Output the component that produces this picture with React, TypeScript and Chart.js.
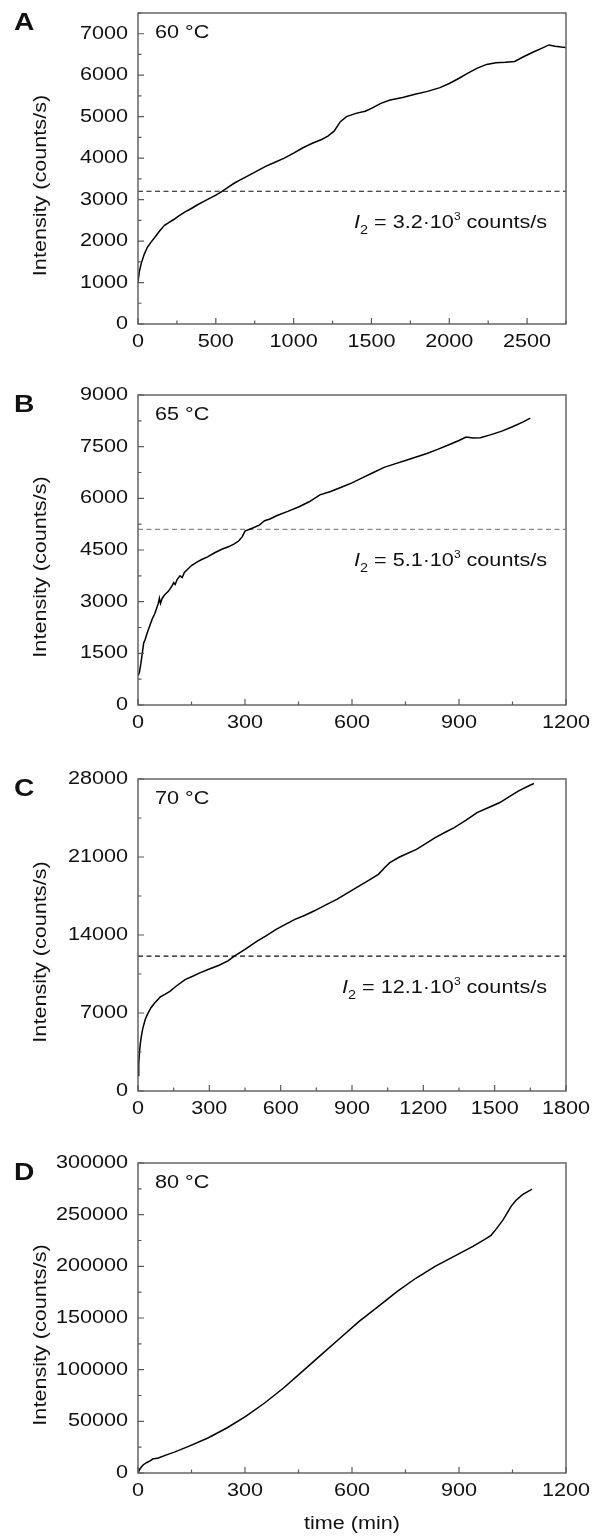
import React, { useEffect, useRef } from "react";
import { Chart, registerables } from "chart.js";

Chart.register(...registerables);

const FONT = '"Liberation Sans", Arial, Helvetica, sans-serif';

// ---------- Panel A (60 °C) ----------
const A_TIME = [0, 8, 20, 40, 60, 85, 110, 140, 170, 200, 230, 260, 300, 340, 380, 420, 460, 500, 540, 580, 620, 660, 700, 760, 820, 880, 940, 1000, 1060, 1120, 1180, 1220, 1260, 1300, 1340, 1400, 1460, 1500, 1560, 1620, 1700, 1780, 1860, 1940, 2000, 2060, 2120, 2180, 2240, 2300, 2360, 2420, 2480, 2540, 2600, 2640, 2680, 2720, 2748];
const A_INTENSITY = [1000, 1250, 1450, 1680, 1850, 1980, 2100, 2250, 2380, 2450, 2520, 2600, 2700, 2780, 2870, 2950, 3030, 3110, 3200, 3300, 3400, 3480, 3560, 3680, 3800, 3900, 4000, 4120, 4250, 4360, 4450, 4530, 4650, 4880, 5000, 5080, 5130, 5200, 5320, 5400, 5460, 5540, 5610, 5700, 5800, 5920, 6050, 6170, 6260, 6300, 6310, 6330, 6450, 6560, 6660, 6730, 6700, 6680, 6670];
const A_X_TICKS = [0, 500, 1000, 1500, 2000, 2500];
const A_Y_TICKS = [0, 1000, 2000, 3000, 4000, 5000, 6000, 7000];
const A_I2 = 3200;

// ---------- Panel B (65 °C) ----------
const B_TIME = [0, 4, 8, 12, 16, 20, 26, 33, 40, 47, 52, 57, 60, 63, 68, 75, 85, 95, 100, 104, 110, 118, 124, 130, 140, 150, 165, 180, 195, 215, 235, 255, 270, 282, 292, 300, 320, 340, 355, 370, 390, 420, 450, 480, 510, 540, 570, 600, 630, 660, 690, 720, 750, 780, 810, 840, 870, 900, 920, 940, 960, 990, 1020, 1050, 1080, 1100];
const B_INTENSITY = [850, 950, 1200, 1500, 1800, 1900, 2100, 2300, 2500, 2650, 2800, 2950, 3100, 2950, 3100, 3200, 3300, 3450, 3550, 3500, 3650, 3750, 3700, 3850, 3950, 4050, 4150, 4230, 4300, 4420, 4520, 4600, 4680, 4760, 4880, 5050, 5130, 5220, 5350, 5400, 5500, 5620, 5750, 5900, 6100, 6200, 6320, 6450, 6600, 6750, 6900, 7000, 7100, 7200, 7300, 7420, 7550, 7680, 7780, 7750, 7760, 7850, 7950, 8080, 8220, 8330];
const B_X_TICKS = [0, 300, 600, 900, 1200];
const B_Y_TICKS = [0, 1500, 3000, 4500, 6000, 7500, 9000];
const B_I2 = 5100;

// ---------- Panel C (70 °C) ----------
const C_TIME = [0, 3, 6, 10, 14, 20, 30, 40, 54, 70, 94, 115, 134, 160, 198, 230, 260, 300, 341, 380, 405, 450, 501, 540, 581, 620, 660, 700, 740, 790, 836, 880, 931, 970, 1011, 1040, 1059, 1100, 1171, 1210, 1250, 1290, 1330, 1380, 1426, 1470, 1522, 1560, 1601, 1640, 1665];
const C_INTENSITY = [1400, 2500, 3400, 4300, 4900, 5600, 6400, 6900, 7450, 7900, 8440, 8700, 8950, 9400, 10000, 10300, 10600, 10950, 11290, 11700, 12100, 12700, 13450, 13950, 14500, 14950, 15400, 15750, 16150, 16700, 17200, 17750, 18400, 18900, 19440, 20100, 20490, 21000, 21690, 22200, 22740, 23200, 23640, 24300, 24990, 25400, 25890, 26400, 26940, 27350, 27600];
const C_X_TICKS = [0, 300, 600, 900, 1200, 1500, 1800];
const C_Y_TICKS = [0, 7000, 14000, 21000, 28000];
const C_I2 = 12100;

// ---------- Panel D (80 °C) ----------
const D_TIME = [0, 4, 10, 15, 25, 35, 41, 45, 57, 80, 100, 142, 196, 249, 302, 355, 408, 461, 514, 567, 620, 674, 727, 780, 833, 886, 939, 971, 990, 1003, 1024, 1046, 1060, 1078, 1105];
const D_INTENSITY = [0, 3200, 6000, 8000, 10200, 12000, 13500, 13800, 14500, 17500, 20000, 25800, 33870, 43550, 54840, 67740, 82260, 98390, 114500, 130650, 146770, 161290, 175800, 188700, 200000, 209700, 219350, 225800, 230000, 235500, 245200, 258000, 264000, 269350, 274800];
const D_X_TICKS = [0, 300, 600, 900, 1200];
const D_Y_TICKS = [0, 50000, 100000, 150000, 200000, 250000, 300000];

type PanelCfg = {
  letter: string;
  temp: string;
  time: number[];
  intensity: number[];
  xMax: number;
  yMax: number;
  xTicks: number[];
  yTicks: number[];
  i2?: number;
  i2Text?: string;
  dashColor?: string;
  xTitle?: string;
  top: number;
  height: number;
  plotHeight: number;
};

const PANELS: PanelCfg[] = [
  { letter: "A", temp: "60 °C", time: A_TIME, intensity: A_INTENSITY, xMax: 2750, yMax: 7500, xTicks: A_X_TICKS, yTicks: A_Y_TICKS, i2: A_I2, i2Text: "3.2", dashColor: "#111", top: 0, height: 382, plotHeight: 311 },
  { letter: "B", temp: "65 °C", time: B_TIME, intensity: B_INTENSITY, xMax: 1200, yMax: 9000, xTicks: B_X_TICKS, yTicks: B_Y_TICKS, i2: B_I2, i2Text: "5.1", dashColor: "#8a8a8a", top: 382, height: 384, plotHeight: 310 },
  { letter: "C", temp: "70 °C", time: C_TIME, intensity: C_INTENSITY, xMax: 1800, yMax: 28000, xTicks: C_X_TICKS, yTicks: C_Y_TICKS, i2: C_I2, i2Text: "12.1", dashColor: "#111", top: 766, height: 384, plotHeight: 312 },
  { letter: "D", temp: "80 °C", time: D_TIME, intensity: D_INTENSITY, xMax: 1200, yMax: 300000, xTicks: D_X_TICKS, yTicks: D_Y_TICKS, xTitle: "time (min)", top: 1150, height: 390, plotHeight: 310 },
];

const PAD_TOP = 13;
const PLOT_LEFT = 138;
const PLOT_RIGHT = 566;
const W = 594;
const TEXT = "#111";
const FRAME = "#5a5a5a";
const SX = 1.2; // horizontal widening of the glyphs, as in the reference
const FS = 18;

function txt(
  ctx: CanvasRenderingContext2D,
  s: string,
  x: number,
  y: number,
  font: string,
  align: "left" | "center" | "right",
  baseline: CanvasTextBaseline = "alphabetic"
) {
  ctx.save();
  ctx.font = font;
  const w = ctx.measureText(s).width * SX;
  const x0 = align === "left" ? x : align === "center" ? x - w / 2 : x - w;
  ctx.translate(x0, y);
  ctx.scale(SX, 1);
  ctx.textAlign = "left";
  ctx.textBaseline = baseline;
  ctx.fillText(s, 0, 0);
  ctx.restore();
  return w;
}

function makePlugin(p: PanelCfg) {
  return {
    id: "decor" + p.letter,
    afterDatasetsDraw(chart: any) {
      const ctx: CanvasRenderingContext2D = chart.ctx;
      const { left, right, top, bottom } = chart.chartArea;
      const xs = chart.scales.x;
      const ys = chart.scales.y;
      ctx.save();
      // frame
      ctx.strokeStyle = FRAME;
      ctx.lineWidth = 1.4;
      ctx.strokeRect(left, top, right - left, bottom - top);
      // inward ticks, major + minor
      ctx.lineWidth = 1.2;
      ctx.beginPath();
      const xstep = p.xTicks[1] - p.xTicks[0];
      for (let v = 0; v <= p.xMax + 1e-9; v += xstep / 2) {
        const major = Math.abs(v / xstep - Math.round(v / xstep)) < 1e-6;
        const px = xs.getPixelForValue(v);
        ctx.moveTo(px, bottom);
        ctx.lineTo(px, bottom - (major ? 6 : 3.5));
      }
      const ystep = p.yTicks[1] - p.yTicks[0];
      for (let v = 0; v <= p.yMax + 1e-9; v += ystep / 2) {
        const major = Math.abs(v / ystep - Math.round(v / ystep)) < 1e-6;
        const py = ys.getPixelForValue(v);
        ctx.moveTo(left, py);
        ctx.lineTo(left + (major ? 6 : 3.5), py);
      }
      ctx.stroke();

      ctx.fillStyle = TEXT;
      const F = `${FS}px ${FONT}`;
      // tick labels
      for (const v of p.xTicks) {
        txt(ctx, String(v), xs.getPixelForValue(v), bottom + 23, F, "center");
      }
      for (const v of p.yTicks) {
        txt(ctx, String(v), left - 10, ys.getPixelForValue(v), F, "right", "middle");
      }
      // panel letter
      txt(ctx, p.letter, 14, top + 17, `bold 23.5px ${FONT}`, "left");
      // temperature
      txt(ctx, p.temp, 155, top + 25, F, "left");
      // y title
      ctx.save();
      ctx.translate(41, (top + bottom) / 2 + 17);
      ctx.rotate(-Math.PI / 2);
      txt(ctx, "Intensity (counts/s)", 0, 0, F, "center", "middle");
      ctx.restore();
      // x title
      if (p.xTitle) {
        txt(ctx, p.xTitle, (left + right) / 2, bottom + 56, F, "center");
      }
      // I2 label
      if (p.i2 !== undefined) {
        const base = ys.getPixelForValue(p.i2) + 37;
        const pieces = [
          { t: "I", f: `italic ${FS}px ${FONT}`, dy: 0 },
          { t: "2", f: `${Math.round(FS * 0.68)}px ${FONT}`, dy: 6 },
          { t: " = " + p.i2Text + "·10", f: F, dy: 0 },
          { t: "3", f: `${Math.round(FS * 0.58)}px ${FONT}`, dy: -8 },
          { t: " counts/s", f: F, dy: 0 },
        ];
        let total = 0;
        for (const pc of pieces) {
          ctx.font = pc.f;
          total += ctx.measureText(pc.t).width * SX;
        }
        let x = 547 - total;
        for (const pc of pieces) {
          x += txt(ctx, pc.t, x, base + pc.dy, pc.f, "left");
        }
      }
      ctx.restore();
    },
  };
}

function PanelChart({ p }: { p: PanelCfg }) {
  const ref = useRef<HTMLCanvasElement>(null);
  useEffect(() => {
    if (!ref.current) return;
    const curve = p.time.map((t, i) => ({ x: t, y: p.intensity[i] }));
    const datasets: any[] = [
      {
        data: curve,
        borderColor: "#000",
        borderWidth: 1.5,
        pointRadius: 0,
        tension: 0,
        fill: false,
      },
    ];
    if (p.i2 !== undefined) {
      datasets.push({
        data: [
          { x: 0, y: p.i2 },
          { x: p.xMax, y: p.i2 },
        ],
        borderColor: p.dashColor,
        borderWidth: 1.1,
        borderDash: [5, 3.5],
        pointRadius: 0,
        fill: false,
      });
    }
    const xAxisH = p.height - PAD_TOP - p.plotHeight;
    const chart = new Chart(ref.current, {
      type: "line",
      data: { datasets },
      options: {
        animation: false,
        responsive: false,
        maintainAspectRatio: false,
        devicePixelRatio: 1,
        layout: { padding: { top: PAD_TOP, right: W - PLOT_RIGHT, left: 0, bottom: 0 } },
        plugins: { legend: { display: false }, tooltip: { enabled: false }, title: { display: false } },
        scales: {
          x: {
            type: "linear",
            min: 0,
            max: p.xMax,
            grid: { display: false, drawTicks: false },
            border: { display: false },
            ticks: { display: false },
            afterFit: (s: any) => {
              s.height = xAxisH;
            },
          },
          y: {
            type: "linear",
            min: 0,
            max: p.yMax,
            grid: { display: false, drawTicks: false },
            border: { display: false },
            ticks: { display: false },
            afterFit: (s: any) => {
              s.width = PLOT_LEFT;
            },
          },
        },
      } as any,
      plugins: [makePlugin(p)],
    });
    return () => chart.destroy();
  }, [p]);
  return (
    <canvas
      ref={ref}
      width={W}
      height={p.height}
      style={{ position: "absolute", left: 0, top: p.top, width: W, height: p.height }}
    />
  );
}

export default function App() {
  return (
    <div style={{ position: "absolute", left: 0, top: 0, width: W, height: 1540, background: "#fff" }}>
      {PANELS.map((p) => (
        <PanelChart key={p.letter} p={p} />
      ))}
    </div>
  );
}
